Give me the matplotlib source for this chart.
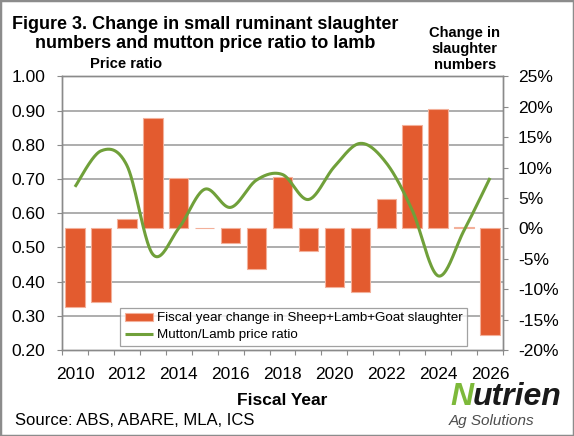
import numpy as np
import matplotlib
matplotlib.use("Agg")
import matplotlib.pyplot as plt
from matplotlib.patches import Rectangle
from matplotlib.transforms import blended_transform_factory

plt.rcParams["font.family"] = ["Liberation Sans", "DejaVu Sans"]

# --------------------------------------------------
# DATA
# --------------------------------------------------
years = list(range(2010, 2027))
slaughter_change = [-12.9, -12.1, 1.5, 18.1, 8.3, 0.1, -2.4, -6.7, 8.5, -3.7,
                    -9.6, -10.5, 4.8, 17.0, 19.7, 0.3, -17.5]   # %
price_ratio = [0.677, 0.782, 0.740, 0.480, 0.556, 0.670, 0.617, 0.697, 0.713,
               0.640, 0.736, 0.804, 0.747, 0.609, 0.417, 0.550, 0.703]
left_ticks = [0.20, 0.30, 0.40, 0.50, 0.60, 0.70, 0.80, 0.90, 1.00]
right_ticks = [-20, -15, -10, -5, 0, 5, 10, 15, 20, 25]

BAR_COLOR = "#E35B2F"
LINE_COLOR = "#70A03A"
GRID_COLOR = "#979797"
AXIS_COLOR = "#8a8a8a"


def excel_smooth(x, y, n=40):
    # Excel style smoothed line: cubic bezier through the points
    pts = np.column_stack([x, y]).astype(float)
    out = []
    for i in range(len(pts) - 1):
        p0 = pts[max(i - 1, 0)]
        p1 = pts[i]
        p2 = pts[i + 1]
        p3 = pts[min(i + 2, len(pts) - 1)]
        c1 = p1 + (p2 - p0) / 6
        c2 = p2 - (p3 - p1) / 6
        t = np.linspace(0, 1, n)[:, None]
        seg = (1 - t) ** 3 * p1 + 3 * (1 - t) ** 2 * t * c1 + 3 * (1 - t) * t ** 2 * c2 + t ** 3 * p2
        out.append(seg if i == 0 else seg[1:])
    return np.vstack(out)


fig = plt.figure(figsize=(5.74, 4.36), dpi=100)
ax = fig.add_axes([0.108, 0.197, 0.7683, 0.628])
axb = ax.twinx()

ax.set_zorder(2)
ax.patch.set_visible(False)
axb.set_zorder(1)

x = np.arange(len(years))

# bars (right axis)
bars = axb.bar(x, slaughter_change, width=0.75, color=BAR_COLOR,
               edgecolor="#F3B09A", linewidth=0.8, zorder=2,
               label="Fiscal year change in Sheep+Lamb+Goat slaughter")
axb.set_ylim(-20, 25)
axb.set_yticks(right_ticks)
axb.set_yticklabels([f"{v}%" for v in right_ticks])

# gridlines follow the left axis but sit under the bars
trans = blended_transform_factory(axb.transAxes, ax.transData)
for v in left_ticks[1:-1]:
    axb.plot([0, 1], [v, v], transform=trans, color=GRID_COLOR, lw=1.1, zorder=0)

# smoothed price ratio line (left axis)
curve = excel_smooth(x, price_ratio)
line, = ax.plot(curve[:, 0], curve[:, 1], color=LINE_COLOR, lw=2.2,
                solid_capstyle="butt", label="Mutton/Lamb price ratio")
ax.set_ylim(0.2, 1.0)
ax.set_yticks(left_ticks)
ax.set_yticklabels([f"{v:.2f}" for v in left_ticks])

ax.set_xlim(-0.5, len(years) - 0.5)
ax.set_xticks(np.arange(-0.5, len(years)))
ax.set_xticklabels([])
ax.set_xticks(x[::2], minor=True)
ax.set_xticklabels([str(y) for y in years[::2]], minor=True)

ax.tick_params(axis="y", which="major", direction="out", length=3.6, width=0.8,
               color=AXIS_COLOR, labelsize=12.5, pad=8.6)
axb.tick_params(axis="y", which="major", direction="out", length=3.6, width=0.8,
                color=AXIS_COLOR, labelsize=12.5, pad=7.2)
ax.tick_params(axis="x", which="major", direction="out", length=3.6, width=0.8,
               color=AXIS_COLOR)
ax.tick_params(axis="x", which="minor", length=0, labelsize=12.5, pad=12)

for a in (ax, axb):
    for s in a.spines.values():
        s.set_color(AXIS_COLOR)
        s.set_linewidth(1.0)

ax.set_xlabel("Fiscal Year", fontsize=12.5, fontweight="bold", labelpad=8)

leg = ax.legend([bars, line], [bars.get_label(), line.get_label()],
                loc="lower left", bbox_to_anchor=(0.1315, 0.0157),
                borderaxespad=0, fontsize=9.6, frameon=True, fancybox=False,
                handlelength=2.16, handleheight=0.5, handletextpad=0.25,
                borderpad=0.35, labelspacing=0.35)
leg.get_frame().set_edgecolor("#8a8a8a")
leg.get_frame().set_linewidth(0.9)

# titles and axis headings
fig.text(205.5 / 574, 1 - 34 / 436, "Figure 3. Change in small ruminant slaughter\nnumbers and mutton price ratio to lamb",
         ha="center", va="center", fontsize=13, fontweight="bold", linespacing=1.12)
fig.text(125.7 / 574, 1 - 64 / 436, "Price ratio", ha="center", va="center",
         fontsize=10.6, fontweight="bold")
fig.text(464.7 / 574, 1 - 49 / 436, "Change in\nslaughter\nnumbers", ha="center", va="center",
         fontsize=10.6, fontweight="bold", linespacing=1.22)

fig.text(14.6 / 574, 1 - 420 / 436, "Source: ABS, ABARE, MLA, ICS", ha="left", va="center",
         fontsize=12)

# logo as text: green N followed by dark "utrien"
logo_n = fig.text(450 / 574, 1 - 397 / 436, "N", ha="left", va="center", fontsize=23,
                  fontweight="bold", fontstyle="italic", color="#7DB93A")
fig.canvas.draw()
n_ext = logo_n.get_window_extent()
fig.text(n_ext.x1 / fig.bbox.width, 1 - 397 / 436, "utrien", ha="left", va="center",
         fontsize=23, fontweight="bold", fontstyle="italic", color="#1a1a1a")
fig.text(449 / 574, 1 - 421 / 436, "Ag Solutions", ha="left", va="center", fontsize=11,
         fontstyle="italic", color="#4d4d4d")

fig.patches.append(Rectangle((0, 0), 1, 1, transform=fig.transFigure, fill=False,
                             edgecolor="#8c8c8c", linewidth=2.5))

fig.savefig("out.png", dpi=100)
